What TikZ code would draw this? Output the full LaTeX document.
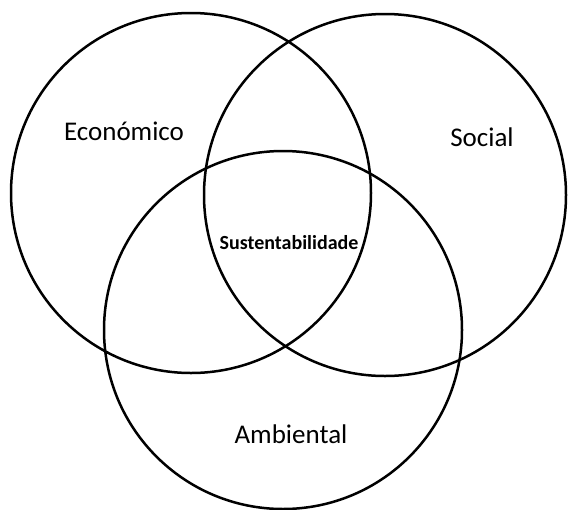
\documentclass[tikz,border=0pt]{standalone}
\usepackage{fontspec}
\setmainfont{Carlito}
\begin{document}
\begin{tikzpicture}[x=1pt, y=-1pt]
    \useasboundingbox (0,0) rectangle (570,509);
    \tikzset{ring/.style={line width=2.5pt}}
    \draw[ring] (191,193) circle (180);
    \draw[ring] (385,195) circle (181);
    \draw[ring] (283,330) circle (179);
    \node (eco) at (124,131) {\fontsize{27}{32}\selectfont Económico};
    \node (soc) at (482,137) {\fontsize{27}{32}\selectfont Social};
    \node (amb) at (291,434) {\fontsize{27}{32}\selectfont Ambiental};
    \node (sus) at (289,243) {\fontsize{20}{24}\selectfont\bfseries Sustentabilidade};
\end{tikzpicture}
\end{document}
